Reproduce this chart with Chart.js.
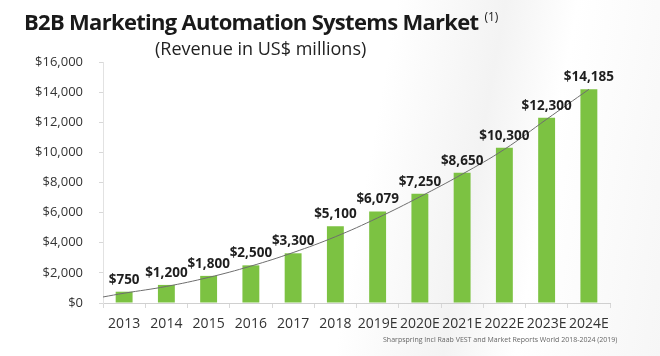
<!DOCTYPE html>
<html>
<head>
<meta charset="utf-8">
<script src="https://cdn.jsdelivr.net/npm/chart.js@4/dist/chart.umd.min.js"></script>
<style>
  html, body { margin: 0; padding: 0; background: #fff; }
  #wrap { position: relative; width: 660px; height: 356px; overflow: hidden;
    background: linear-gradient(100deg, #ffffff 0%, #ffffff 55%, #f3f3f3 70%, #ffffff 80%, #f6f6f6 100%); }
  #c { position: absolute; left: 0; top: 0; }
  .title { position: absolute; left: 24px; top: 6px; font-family: "Open Sans", sans-serif; font-weight: 700;
    font-size: 22px; color: #1a1a1a; letter-spacing: -0.7px; white-space: nowrap; }
  .title sup { font-size: 12px; font-weight: 400; vertical-align: 9px; margin-left: 6px; letter-spacing: 0; }
  .sub { position: absolute; left: 155px; top: 36px; font-family: "Open Sans", sans-serif; font-size: 18px;
    color: #222; white-space: nowrap; }
  .src { position: absolute; left: 383px; top: 335px; font-family: "Open Sans", sans-serif; font-size: 7px;
    color: #666; white-space: nowrap; }
</style>
</head>
<body>
<div id="wrap">
  <canvas id="c" width="660" height="356"></canvas>
  <div class="title">B2B Marketing Automation Systems Market<sup>(1)</sup></div>
  <div class="sub">(Revenue in US$ millions)</div>
  <div class="src">Sharpspring Incl Raab VEST and Market Reports World 2018-2024 (2019)</div>
</div>
<script>
const categories = ["2013","2014","2015","2016","2017","2018","2019E","2020E","2021E","2022E","2023E","2024E"];
const revenue = [750, 1200, 1800, 2500, 3300, 5100, 6079, 7250, 8650, 10300, 12300, 14185];
const valueLabels = ["$750","$1,200","$1,800","$2,500","$3,300","$5,100","$6,079","$7,250","$8,650","$10,300","$12,300","$14,185"];
// trend line, position in category-index units (-0.5 = left edge of the plot)
const trendPos = [-0.5, 0, 1, 2, 3, 4, 5, 6, 7, 8, 9, 10, 11];
const trendVal = [400, 650, 1100, 1700, 2450, 3350, 4400, 5650, 7050, 8550, 10200, 12200, 14185];
const yTicks = [0, 2000, 4000, 6000, 8000, 10000, 12000, 14000, 16000];

const barLabels = {
  id: 'barLabels',
  afterDatasetsDraw(chart) {
    const meta = chart.getDatasetMeta(1);
    const ctx = chart.ctx;
    ctx.save();
    ctx.font = 'bold 13.5px "Open Sans", sans-serif';
    ctx.fillStyle = '#1e1e1e';
    ctx.textAlign = 'center';
    ctx.textBaseline = 'alphabetic';
    meta.data.forEach((el, i) => {
      ctx.fillText(valueLabels[i], el.x, el.y - 8);
    });
    ctx.restore();
  }
};

new Chart(document.getElementById('c'), {
  data: {
    labels: categories,
    datasets: [
      {
        type: 'line',
        xAxisID: 'xt',
        data: trendPos.map((p, i) => ({ x: p, y: trendVal[i] })),
        borderColor: '#6e6e6e',
        borderWidth: 1,
        pointRadius: 0,
        tension: 0.4,
        fill: false,
        order: 0
      },
      {
        type: 'bar',
        xAxisID: 'x',
        data: revenue,
        backgroundColor: '#7cc242',
        grouped: false,
        categoryPercentage: 1,
        barPercentage: 0.4,
        order: 1
      }
    ]
  },
  options: {
    responsive: false,
    animation: false,
    layout: { padding: { top: 62, right: 50, left: 0, bottom: 0 } },
    plugins: { legend: { display: false }, tooltip: { enabled: false } },
    scales: {
      x: {
        type: 'category',
        offset: true,
        grid: { display: true, drawOnChartArea: false, offset: true, tickLength: 5, color: '#d8d8d8' },
        border: { display: true, color: '#d0d0d0' },
        ticks: { color: '#333', font: { family: '"Open Sans", sans-serif', size: 14 }, padding: 8, maxRotation: 0, autoSkip: false },
        afterFit(s) { s.height = 53; }
      },
      xt: {
        type: 'linear', display: false, min: -0.5, max: 11.5
      },
      y: {
        min: 0, max: 16000,
        afterBuildTicks(s) { s.ticks = yTicks.map(v => ({ value: v })); },
        grid: { display: true, drawOnChartArea: false, tickLength: 4, color: '#d8d8d8' },
        border: { display: true, color: '#e2e2e2' },
        ticks: {
          color: '#333', font: { family: '"Open Sans", sans-serif', size: 13 }, padding: 16,
          callback: v => '$' + v.toLocaleString('en-US')
        },
        afterFit(s) { s.width = 103; }
      }
    }
  },
  plugins: [barLabels]
});
</script>
</body>
</html>
